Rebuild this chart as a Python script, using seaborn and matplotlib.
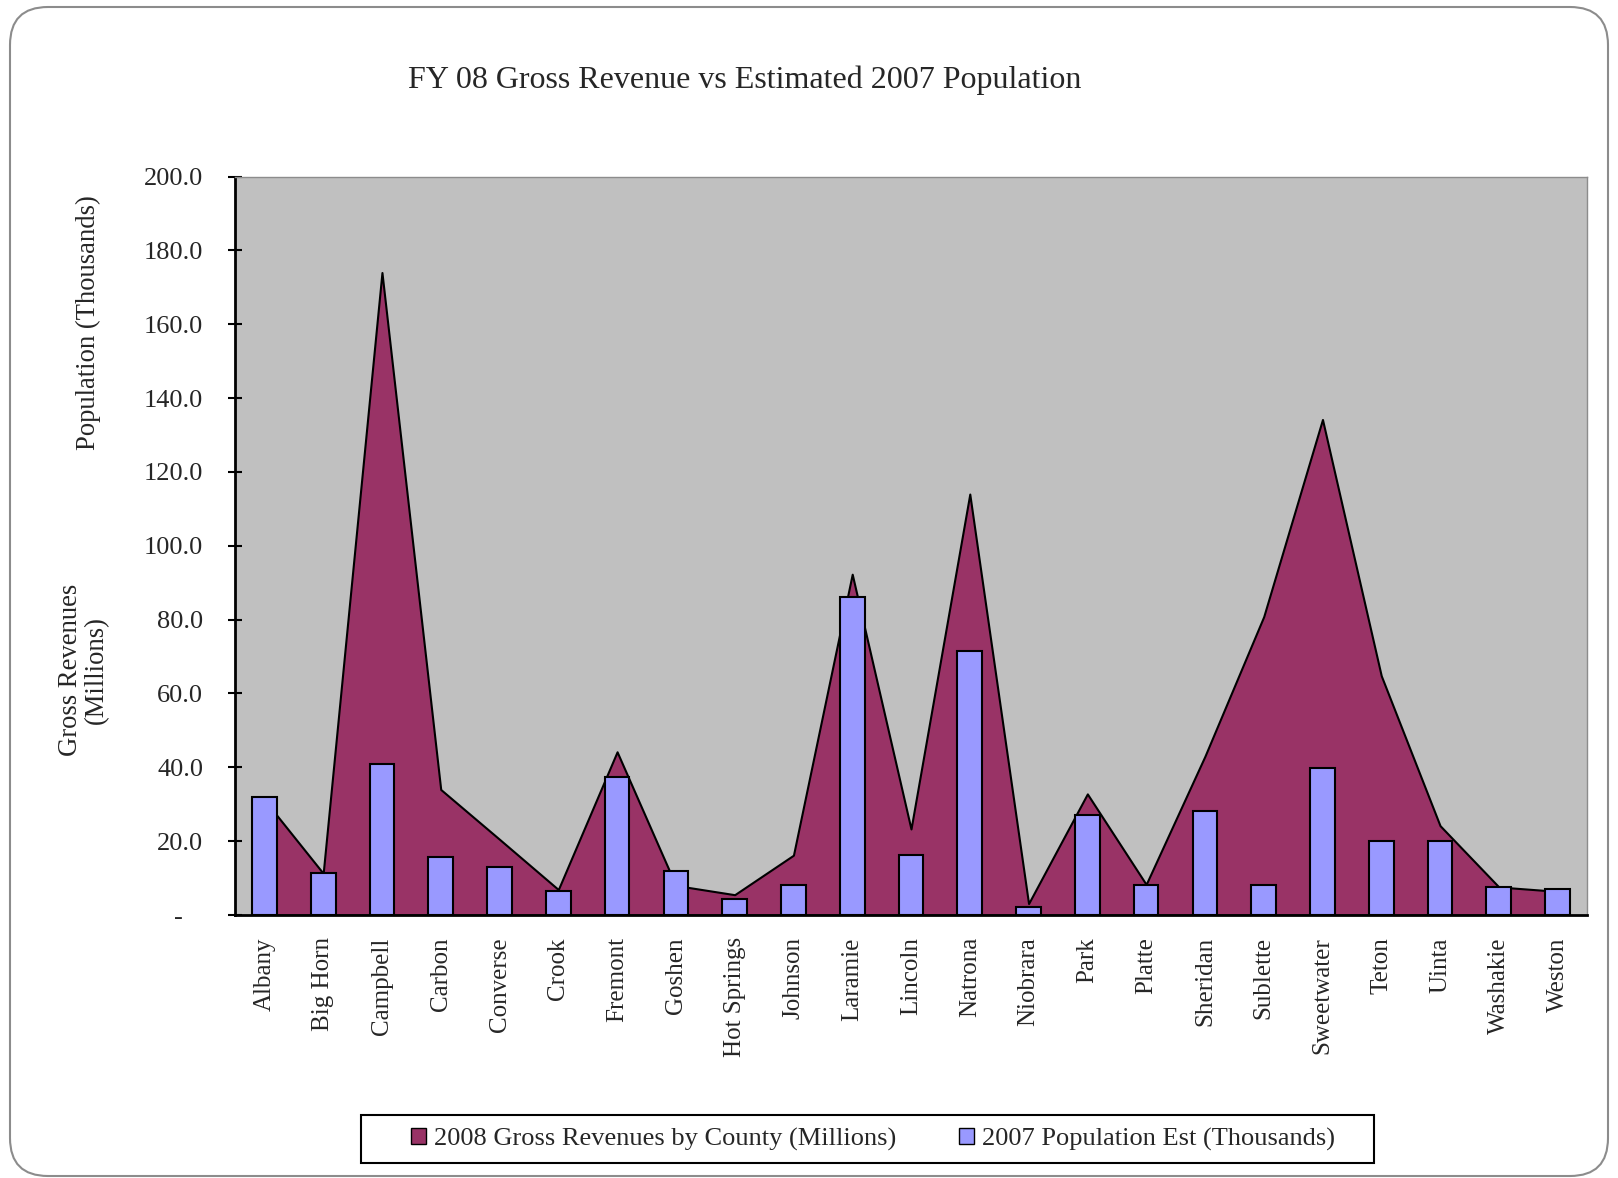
import matplotlib
matplotlib.use("Agg")
import numpy as np
import pandas as pd
import matplotlib.pyplot as plt
from matplotlib.patches import Patch, Rectangle, FancyBboxPatch
from matplotlib.transforms import IdentityTransform
import seaborn as sns

counties = ['Albany', 'Big Horn', 'Campbell', 'Carbon', 'Converse', 'Crook',
            'Fremont', 'Goshen', 'Hot Springs', 'Johnson', 'Laramie', 'Lincoln',
            'Natrona', 'Niobrara', 'Park', 'Platte', 'Sheridan', 'Sublette',
            'Sweetwater', 'Teton', 'Uinta', 'Washakie', 'Weston']

# 2008 gross revenues (millions)
revenue = [31.2, 11.3, 174.0, 34.0, 20.5, 6.9, 44.2, 8.0, 5.5, 16.2, 92.3, 23.3,
           114.0, 3.1, 32.8, 8.3, 43.0, 80.8, 134.2, 64.8, 24.2, 7.6, 6.4]

# 2007 population estimate (thousands)
population = [32.0, 11.4, 40.8, 15.8, 13.0, 6.6, 37.3, 11.9, 4.4, 8.2, 86.0, 16.3,
              71.5, 2.2, 27.2, 8.2, 28.2, 8.2, 39.7, 20.0, 20.0, 7.5, 7.1]

series_labels = ['2008 Gross Revenues by County (Millions)',
                 '2007 Population Est (Thousands)']

sns.set_theme(style="white")
plt.rcParams['font.family'] = ['Liberation Serif', 'DejaVu Serif']

df = pd.DataFrame({'County': counties, 'Revenue': revenue, 'Population': population})

W, H = 1618, 1178
fig = plt.figure(figsize=(W / 100, H / 100), dpi=100)
fig.patch.set_facecolor('white')

# rounded chart-area border
fig.add_artist(FancyBboxPatch((10, 2), 1598, 1169, boxstyle="round,pad=0,rounding_size=38",
                              transform=IdentityTransform(), facecolor='none',
                              edgecolor='#8c8c8c', linewidth=1.5))

ax = fig.add_axes([235 / W, 1 - 915 / H, (1587 - 235) / W, (915 - 176.5) / H])
ax.set_facecolor('#C0C0C0')

x = np.arange(len(counties))
ax.fill_between(x, df['Revenue'], 0, facecolor='#993366', edgecolor='black',
                linewidth=1.5, zorder=1)
sns.barplot(data=df, x='County', y='Population', color='#9999FF', saturation=1,
            edgecolor='black', linewidth=1.5, width=0.42, errorbar=None, ax=ax, zorder=2)

ax.set_xlim(-0.5, len(counties) - 0.5)
ax.set_ylim(0, 200)
yt = np.arange(0, 201, 20)
ax.set_yticks(yt)
ax.set_yticklabels(['-   ' if v == 0 else f'{v:.1f}' for v in yt], fontsize=19)
ax.set_xticks(x)
ax.set_xticklabels(counties, rotation=90, fontsize=18)
ax.set_xticks(np.arange(-0.5, len(counties)), minor=True)
ax.tick_params(axis='x', which='major', length=0, pad=16)
ax.tick_params(axis='x', which='minor', direction='inout', length=10, width=1.5, color='black')
ax.tick_params(axis='y', direction='inout', length=10, width=1.5, color='black', pad=18, left=True)
ax.set_xlabel('')
ax.set_ylabel('')

for s in ['left', 'bottom']:
    ax.spines[s].set_color('black')
    ax.spines[s].set_linewidth(2)
for s in ['top', 'right']:
    ax.spines[s].set_color('#8c8c8c')
    ax.spines[s].set_linewidth(1)

fig.text(745 / W, 1 - 80 / H, 'FY 08 Gross Revenue vs Estimated 2007 Population',
         ha='center', va='center', fontsize=23)
fig.text(88 / W, 1 - 323 / H, 'Population (Thousands)', rotation=90,
         ha='center', va='center', fontsize=19.2)
fig.text(83.5 / W, 1 - 670 / H, 'Gross Revenues\n(Millions)', rotation=90,
         ha='center', va='center', multialignment='center', fontsize=19.2, linespacing=1.1)

handles = [Patch(facecolor='#993366', edgecolor='black'),
           Patch(facecolor='#9999FF', edgecolor='black')]
fig.legend(handles, series_labels, loc='center', bbox_to_anchor=(873 / W, 1 - 1139 / H),
           ncol=2, frameon=False, fontsize=19, handlelength=0.55, handleheight=0.55,
           handletextpad=0.3, columnspacing=2.4)
fig.add_artist(Rectangle((361, 15), 1013, 48, transform=IdentityTransform(),
                         facecolor='none', edgecolor='black', linewidth=1.5))

fig.savefig('out.png', dpi=100)
